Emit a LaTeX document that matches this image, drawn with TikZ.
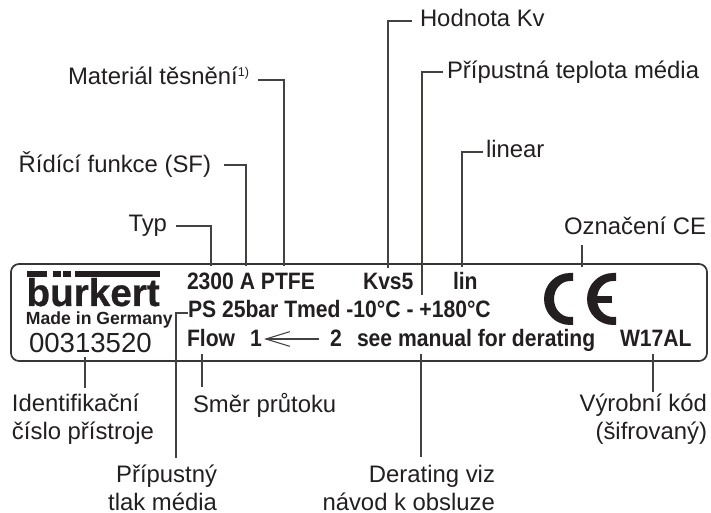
\documentclass[tikz,border=0pt]{standalone}
\usepackage{fontspec}
\setmainfont{Liberation Sans}
\newfontfamily\platefont[FakeStretch=0.89]{Liberation Sans}
\newfontfamily\logofont[BoldFeatures={FakeBold=0.7}]{Liberation Sans}
\usetikzlibrary{arrows.meta}
\definecolor{ink}{HTML}{231F20}
\tikzset{
  x=0.75pt,y=-0.75pt,
  lead/.style={draw=ink!85,line width=0.95pt},
  lbl/.style={inner sep=0pt,outer sep=0pt,text=ink,font=\fontsize{17.9}{21}\selectfont},
  plate/.style={inner sep=0pt,outer sep=0pt,anchor=base west,text=ink,font=\platefont\bfseries\fontsize{17.8}{20}\selectfont},
}
\begin{document}
\begin{tikzpicture}
\useasboundingbox (0,0) rectangle (711,513);
\draw[draw=ink!90,line width=1.3pt,rounded corners=6pt] (11,264) rectangle (707,361);
% logo
\node[plate,font=\logofont\bfseries\fontsize{29}{30}\selectfont] (logo) at (26.5,306) {bürkert};
\fill[white] (50,272) rectangle (73,284.5);
\fill[ink] (27,271) rectangle (47,277);
\fill[ink] (53,271) rectangle (61,277);
\fill[ink] (63,271) rectangle (71,277);
\fill[ink] (75,271) rectangle (160,277);
\node[plate,font=\bfseries\fontsize{13.2}{15}\selectfont] (made) at (26,325) {Made in Germany};
\node[plate,font=\fontsize{20.7}{22}\selectfont] (num) at (29,353) {00313520};
% plate text
\node[plate] (p1) at (187,290) {2300 A PTFE};
\node[plate] (p2) at (363,290) {Kvs5};
\node[plate] (p3) at (453,290) {lin};
\node[plate] (p4) at (188,318) {PS 25bar Tmed -10°C - +180°C};
\node[plate] (p5) at (187,347) {Flow};
\node[plate] (p6) at (250,347) {1};
\node[plate] (p7) at (330,347) {2};
\node[plate] (p8) at (357,347) {see manual for derating};
\node[plate] (p9) at (620,347) {W17AL};
% flow arrow
\coordinate (fa) at (319,339); \coordinate (fb) at (264,339);
\draw[lead,-{Straight Barb[length=18pt,width=11pt,line width=0.8pt]}] (fa) -- (fb);
% CE
\fill[ink] (573,273) -- (570,273) arc (270:90:26) -- (573,325) -- (573,317) -- (570,317) arc (90:270:16 and 18) -- (573,281) -- cycle;
\fill[ink] (616,273) -- (613,273) arc (270:90:26) -- (616,325) -- (616,317) -- (613,317) arc (90:270:16 and 18) -- (616,281) -- cycle;
\fill[ink] (595,296) rectangle (612,303);
% labels
\node[lbl,anchor=base west] (kv) at (420,27) {Hodnota Kv};
\node[lbl,anchor=base west] (tm) at (447,79) {Přípustná teplota média};
\node[lbl,anchor=base west] (mt) at (68,85) {Materiál těsnění\raisebox{6pt}{\fontsize{9.5}{9.5}\selectfont 1)}};
\node[lbl,anchor=base east] (sf) at (211,173) {Řídící funkce (SF)};
\node[lbl,anchor=base east] (ty) at (167,232) {Typ};
\node[lbl,anchor=base west] (li) at (486,158) {linear};
\node[lbl,anchor=base east] (ce) at (706,235) {Označení CE};
\node[lbl,anchor=base west,align=left] (id) at (12,440) {Identifikační\\číslo přístroje};
\node[lbl,anchor=base west] (sm) at (193,412) {Směr průtoku};
\node[lbl,anchor=base east,align=right] (pt) at (217,510) {Přípustný\\tlak média};
\node[lbl,anchor=base east,align=right] (de) at (495,510) {Derating viz\\návod k obsluze};
\node[lbl,anchor=base east,align=right] (vy) at (707,440) {Výrobní kód\\(šifrovaný)};
% leaders
\coordinate (a1) at (412,21); \coordinate (a2) at (388,268);
\draw[lead] (a1) -| (a2);
\coordinate (b1) at (443,72); \coordinate (b2) at (422,295);
\draw[lead] (b1) -| (b2);
\coordinate (c1) at (258,80); \coordinate (c2) at (284,266);
\draw[lead] (c1) -| (c2);
\coordinate (d1) at (224,165); \coordinate (d2) at (246,266);
\draw[lead] (d1) -| (d2);
\coordinate (e1) at (176,226); \coordinate (e2) at (211,266);
\draw[lead] (e1) -| (e2);
\coordinate (f1) at (483,152); \coordinate (f2) at (462,267);
\draw[lead] (f1) -| (f2);
\coordinate (g1) at (582,245); \coordinate (g2) at (582,267);
\draw[lead] (g1) -- (g2);
\coordinate (h1) at (85,357); \coordinate (h2) at (85,388);
\draw[lead] (h1) -- (h2);
\coordinate (i1) at (202,354); \coordinate (i2) at (202,387);
\draw[lead] (i1) -- (i2);
\coordinate (j1) at (188,313); \coordinate (j2) at (176,458);
\draw[lead] (j1) -| (j2);
\coordinate (k1) at (421,354); \coordinate (k2) at (421,457);
\draw[lead] (k1) -- (k2);
\coordinate (l1) at (653,354); \coordinate (l2) at (653,392);
\draw[lead] (l1) -- (l2);
\end{tikzpicture}
\end{document}
